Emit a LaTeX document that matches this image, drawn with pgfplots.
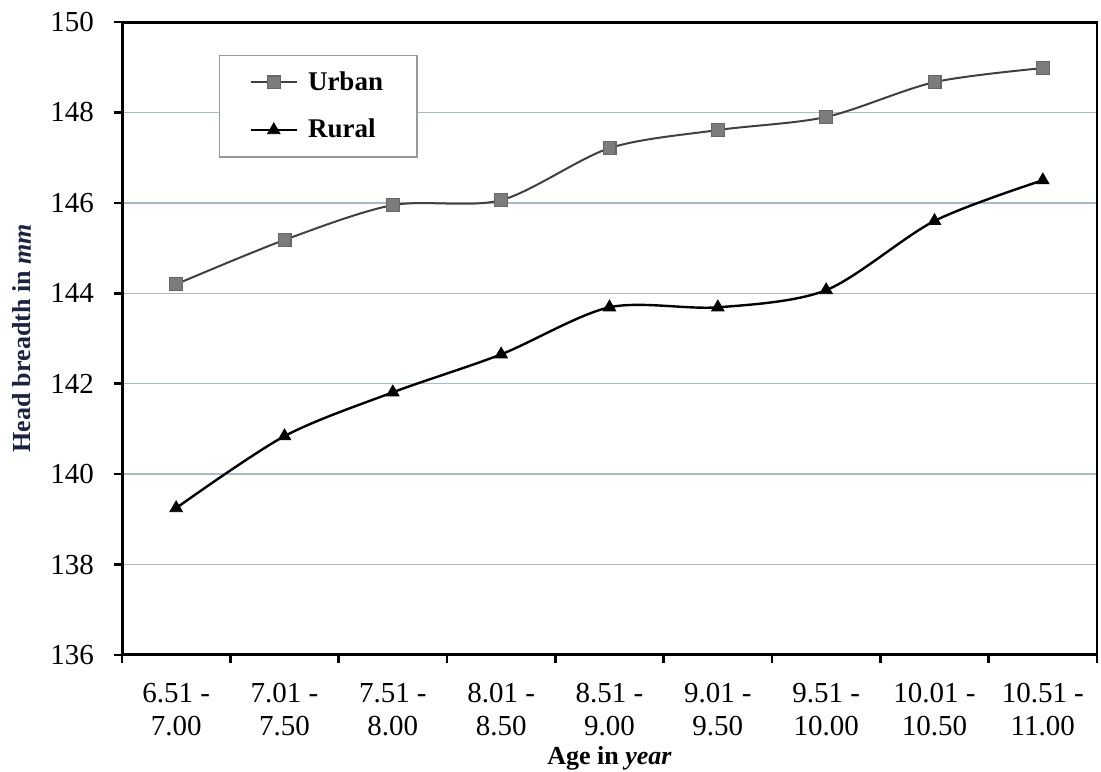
\documentclass[border=0pt]{standalone}
\usepackage{fontspec}
\setmainfont{Liberation Serif}
\usepackage{pgfplots}
\pgfplotsset{compat=1.18}
\definecolor{gridc}{HTML}{A9B9C6}
\definecolor{navy}{HTML}{1C2340}
\definecolor{urbfill}{HTML}{7C7C7C}
\begin{document}
\begin{tikzpicture}
\useasboundingbox (-61pt,-58pt) rectangle (489.5pt,327.5pt);
\begin{axis}[
  at={(0,0)}, anchor=south west,
  scale only axis, width=487.5pt, height=316.5pt,
  xmin=-0.5, xmax=8.5, ymin=136, ymax=150,
  ytick={136,138,...,150},
  yticklabels={\textrm{136},\textrm{138},\textrm{140},\textrm{142},\textrm{144},\textrm{146},\textrm{148},\textrm{150}},
  xtick={-0.5,0.5,...,8.5}, xticklabels={},
  extra x ticks={0,1,...,8},
  extra x tick labels={{6.51 -\\7.00},{7.01 -\\7.50},{7.51 -\\8.00},{8.01 -\\8.50},{8.51 -\\9.00},{9.01 -\\9.50},{9.51 -\\10.00},{10.01 -\\10.50},{10.51 -\\11.00}},
  extra x tick style={major tick length=0pt, xticklabel style={yshift=-10.5pt}},
  xticklabel style={align=center, font=\fontsize{14.5}{16.5}\selectfont},
  yticklabel style={font=\fontsize{14.5}{16.5}\selectfont, xshift=-6.5pt},
  tick align=outside, xtick pos=bottom, ytick pos=left,
  major tick length=4pt,
  tick style={black, line width=1.3pt},
  ymajorgrids, grid style={gridc, line width=0.7pt},
  axis line style={line width=1pt},
  xlabel={Age in \textit{year}},
  ylabel={Head breadth in \textit{mm}},
  xlabel style={font=\bfseries\fontsize{13}{15}\selectfont, at={(axis description cs:0.5,-0.163)}, anchor=center},
  ylabel style={font=\bfseries\fontsize{13}{15}\selectfont, text=navy, at={(axis description cs:-0.1026,0.5)}, anchor=center},
  legend style={at={(rel axis cs:0.0995,0.948)}, anchor=north west, draw=gray!80, line width=0.6pt,
    font=\bfseries\fontsize{13.5}{16}\selectfont, row sep=9pt, inner xsep=15pt, inner ysep=6pt},
  legend cell align=left,
  legend image code/.code={\draw[mark repeat=2,mark phase=2,#1] plot coordinates {(0pt,0pt)(11.5pt,0pt)(23pt,0pt)}; \path (26pt,0pt);},
]
\addplot[smooth, color=black!75, line width=1pt, mark=square*, mark size=3.2pt,
  mark options={fill=urbfill, draw=black!60, line width=0.6pt}]
  coordinates {(0,144.20)(1,145.18)(2,145.95)(3,146.06)(4,147.21)(5,147.61)(6,147.90)(7,148.67)(8,148.98)};
\addlegendentry{Urban}
\addplot[smooth, color=black, line width=1.2pt, mark=triangle*, mark size=3.6pt,
  mark options={fill=black, draw=black, line width=0.4pt}]
  coordinates {(0,139.25)(1,140.84)(2,141.81)(3,142.65)(4,143.69)(5,143.69)(6,144.07)(7,145.60)(8,146.50)};
\addlegendentry{Rural}
\draw[line width=1.8pt] (rel axis cs:0,1) -- (rel axis cs:0,0) -- (rel axis cs:1,0);
\draw[line width=1.8pt] (rel axis cs:0,1) -- (rel axis cs:1,1);
\end{axis}
\end{tikzpicture}
\end{document}
